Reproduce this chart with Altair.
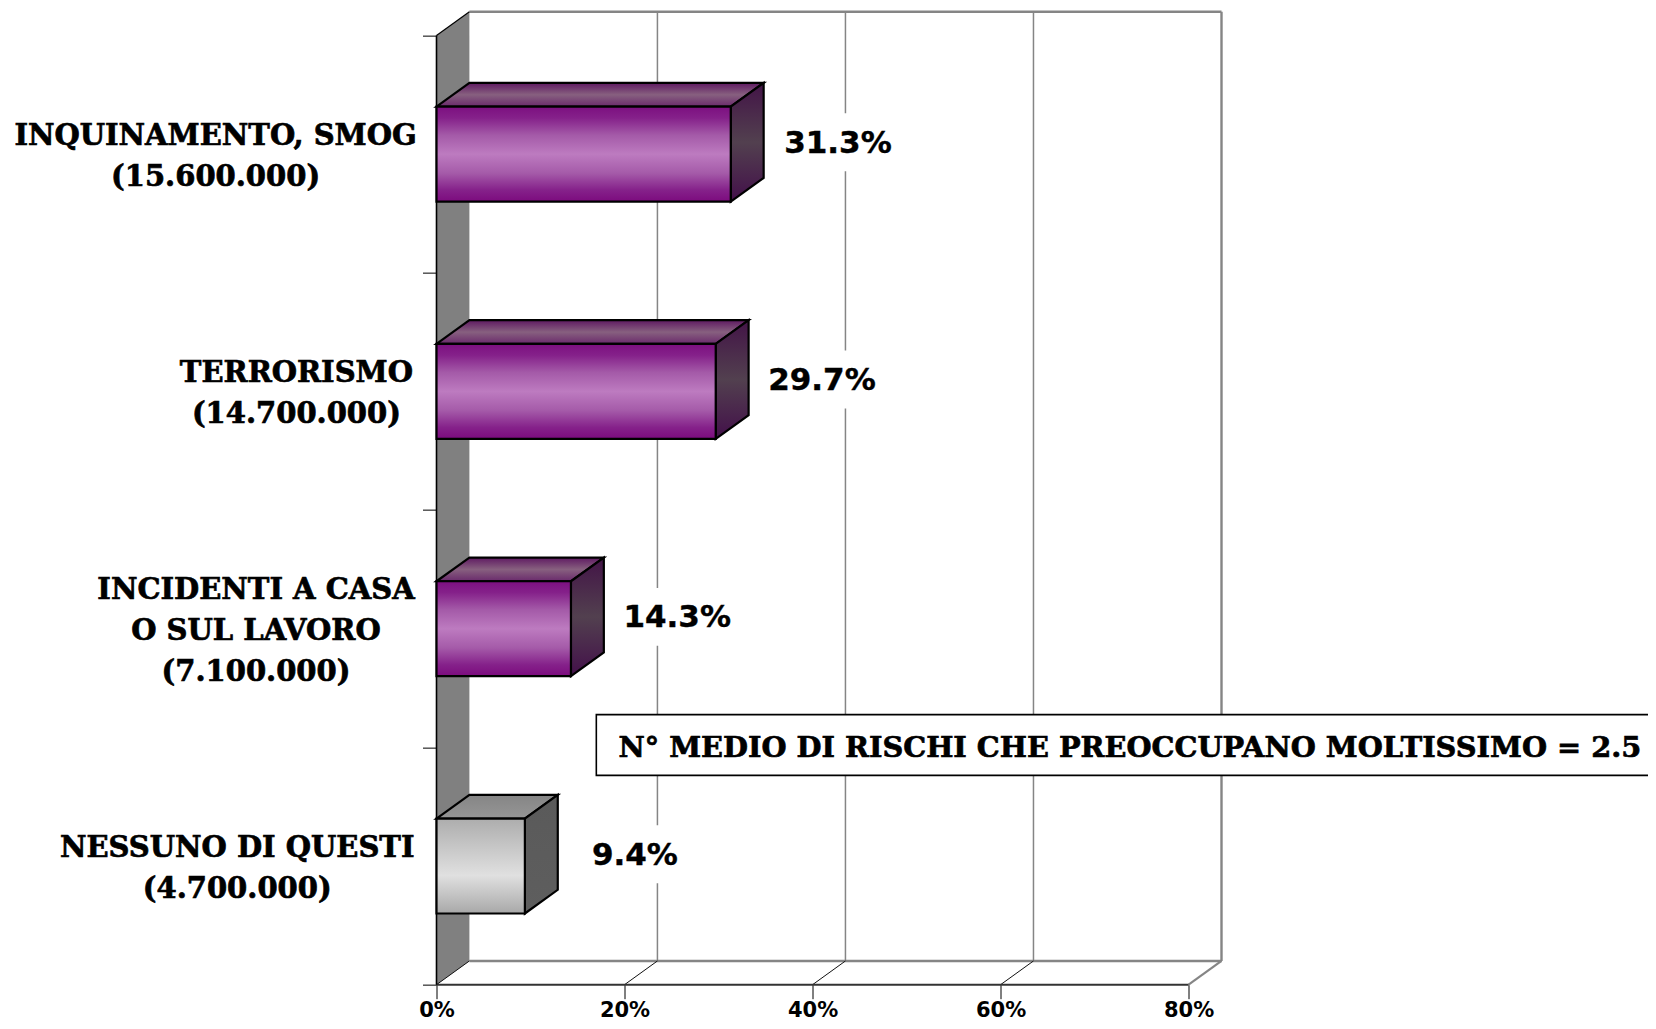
import altair as alt
import pandas as pd

# ---- values
labels = ["INQUINAMENTO, SMOG\n(15.600.000)", "TERRORISMO\n(14.700.000)",
          "INCIDENTI A CASA\nO SUL LAVORO\n(7.100.000)", "NESSUNO DI QUESTI\n(4.700.000)"]
values = [31.3, 29.7, 14.3, 9.4]
value_texts = ["31.3%", "29.7%", "14.3%", "9.4%"]
x_ticks = [0, 20, 40, 60, 80]
note = "N° MEDIO DI RISCHI CHE PREOCCUPANO MOLTISSIMO = 2.5"

# ---- layout of the pseudo 3D box, in axis units
DX, DY = 3.5, 0.1        # depth of the box
XMAX, YMAX = 80, 4       # end of the axes
BAR = 0.4                # bar thickness
LINE = 41 / 237.3        # one text line, in y units
label_center = [-23.5, -14.9, -19.2, -21.2]
value_shift = [11.4, 11.3, 11.3, 11.7]
centers = [3.5, 2.5, 1.5, 0.5]

xs = alt.Scale(domain=[0, XMAX + DX], nice=False, zero=False)
ys = alt.Scale(domain=[0, YMAX + DY], nice=False, zero=False)
SERIF = "DejaVu Serif"
SANS = "DejaVu Sans"

XAX = alt.Axis(values=x_ticks, domain=False, grid=False, tickSize=14, tickColor="#000000", tickWidth=1,
               labelExpr="datum.value + '%'", labelFont=SANS, labelFontWeight="bold", labelFontSize=21,
               labelColor="#000000", labelPadding=1, labelFlush=False, labelOverlap=False, title=None)
YAX = alt.Axis(values=list(range(YMAX + 1)), domain=False, grid=False, tickSize=14, tickColor="#555555",
               tickWidth=1.5, labels=False, title=None)


def grad(*stops):
    return alt.Gradient(gradient="linear", x1=0, x2=0, y1=0, y2=1,
                        stops=[alt.GradientStop(color=c, offset=o) for o, c in stops])


P_FRONT = grad((0, "#7c0f80"), (0.12, "#85218a"), (0.3, "#a45aa8"), (0.5, "#bd7bc0"), (0.7, "#a55ba9"),
               (0.88, "#85218a"), (1, "#7c0b7e"))
P_TOP = grad((0, "#5f1a62"), (0.5, "#87607f"), (1, "#6a2a6c"))
P_SIDE = grad((0, "#431447"), (0.5, "#52404f"), (1, "#43104a"))
G_FRONT = grad((0, "#adadad"), (0.6, "#e0e0e0"), (1, "#a8a8a8"))
G_TOP = grad((0, "#858585"), (1, "#969696"))
G_SIDE = grad((0, "#5a5a5a"), (1, "#5e5e5e"))


def X(f="x"):
    return alt.X(f"{f}:Q", scale=xs, axis=XAX)


def Y(f="y"):
    return alt.Y(f"{f}:Q", scale=ys, axis=YAX)


def rule(x, x2, y, y2, color, width):
    d = pd.DataFrame({"x": [x, x2], "y": [y, y2]})
    return alt.Chart(d).mark_line(color=color, strokeWidth=width, clip=False).encode(x=X(), y=Y())


# wall on the left, carries the real axes
wall_df = pd.DataFrame({"x": [0, DX], "y": [0, DY], "y2": [YMAX, YMAX + DY]})
wall = alt.Chart(wall_df).mark_area(color="#808080", orient="vertical").encode(x=X(), y=Y(), y2="y2:Q")

layers = [wall]
GRAY = "#858585"
for t in x_ticks[1:-1]:
    layers.append(rule(t + DX, t + DX, DY, YMAX + DY, GRAY, 1.5))
layers += [
    rule(DX, XMAX + DX, YMAX + DY, YMAX + DY, GRAY, 2.4),
    rule(XMAX + DX, XMAX + DX, DY, YMAX + DY, GRAY, 2.4),
    rule(DX, XMAX + DX, DY, DY, GRAY, 2.4),
    rule(XMAX, XMAX + DX, 0, DY, GRAY, 2.2),
]
for t in x_ticks[:-1]:
    layers.append(rule(t, t + DX, 0, DY, "#111111", 1))
layers += [
    rule(0, XMAX, 0, 0, "#333333", 2),
    rule(0, 0, 0, YMAX, "#000000", 1.6),
    rule(0, DX, YMAX, YMAX + DY, "#000000", 1.2),
]

# white patches behind the value labels
bg = pd.DataFrame({"x": [v + s - 6.4 for v, s in zip(values, value_shift)],
                   "x2": [v + s + 6.4 for v, s in zip(values, value_shift)],
                   "y": [c + DY / 2 - 0.122 for c in centers],
                   "y2": [c + DY / 2 + 0.122 for c in centers]})
layers.append(alt.Chart(bg).mark_rect(color="#ffffff").encode(x=X(), x2="x2:Q", y=Y(), y2="y2:Q"))

# bars
for v, c, front, top, side in zip(values, centers, [P_FRONT] * 3 + [G_FRONT],
                                  [P_TOP] * 3 + [G_TOP], [P_SIDE] * 3 + [G_SIDE]):
    lo, hi = c - BAR / 2, c + BAR / 2
    top_df = pd.DataFrame({"y": [hi, hi + DY], "x": [0, DX], "x2": [v, v + DX]})
    side_df = pd.DataFrame({"x": [v, v + DX], "y": [lo, lo + DY], "y2": [hi, hi + DY]})
    front_df = pd.DataFrame({"x": [0], "x2": [v], "y": [lo], "y2": [hi]})
    layers += [
        alt.Chart(top_df).mark_area(orient="horizontal", fill=top, stroke="#000000", strokeWidth=2.2).encode(
            x=X(), x2="x2:Q", y=Y()),
        alt.Chart(side_df).mark_area(orient="vertical", fill=side, stroke="#000000", strokeWidth=2.2).encode(
            x=X(), y=Y(), y2="y2:Q"),
        alt.Chart(front_df).mark_rect(fill=front, stroke="#000000", strokeWidth=2.2).encode(
            x=X(), x2="x2:Q", y=Y(), y2="y2:Q"),
    ]

# value labels
val_df = pd.DataFrame({"x": [v + s for v, s in zip(values, value_shift)],
                       "y": [c + DY / 2 for c in centers], "t": value_texts})
layers.append(alt.Chart(val_df).mark_text(font=SANS, fontWeight="bold", fontSize=31, color="#000000",
                                          stroke="#000000", strokeWidth=0.4, dy=1.5,
                                          align="center", baseline="middle").encode(
    x=X(), y=Y(), text="t:N"))

# category labels: the first line sits on y, so lift each block by half its extra lines
cat_df = pd.DataFrame({"x": label_center,
                       "y": [c + (t.count("\n")) / 2 * LINE for c, t in zip(centers, labels)],
                       "t": labels})
layers.append(alt.Chart(cat_df).mark_text(font=SERIF, fontWeight="bold", fontSize=29, color="#000000",
                                          stroke="#000000", strokeWidth=0.7, dy=2,
                                          align="center", baseline="middle", lineBreak="\n",
                                          lineHeight=41).encode(
    x=X(), y=Y(), text="t:N"))

# note box
box = pd.DataFrame({"x": [17.0], "x2": [131.0], "y": [0.882], "y2": [1.138]})
layers.append(alt.Chart(box).mark_rect(fill="#ffffff", stroke="#000000", strokeWidth=1.6, clip=False).encode(
    x=X(), x2="x2:Q", y=Y(), y2="y2:Q"))
note_df = pd.DataFrame({"x": [73.75], "y": [0.997], "t": [note]})
layers.append(alt.Chart(note_df).mark_text(font=SERIF, fontWeight="bold", fontSize=28.8, color="#000000",
                                           stroke="#000000", strokeWidth=0.7,
                                           align="center", baseline="middle").encode(
    x=X(), y=Y(), text="t:N"))

chart = alt.layer(*layers).properties(
    width=785, height=973,
    autosize=alt.AutoSizeParams(type="none"),
    padding={"left": 428.5, "top": 3.7, "right": 426.5, "bottom": 36.3},
    background="#ffffff",
).configure_view(stroke=None)

chart.save("out.html", embed_options={"renderer": "svg", "actions": False})
